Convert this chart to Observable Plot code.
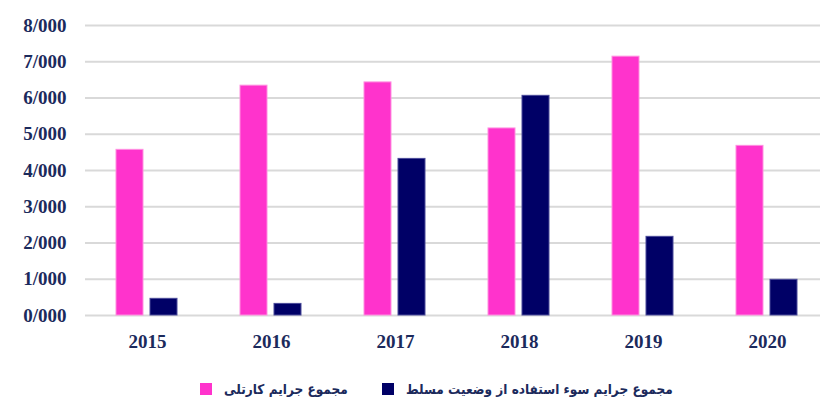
<!DOCTYPE html>
<html>
<head>
<meta charset="utf-8">
<script src="https://cdn.jsdelivr.net/npm/d3@7"></script>
<script src="https://cdn.jsdelivr.net/npm/@observablehq/plot@0.6"></script>
<style>
  html, body { margin: 0; padding: 0; background: #fff; }
  #chart { width: 820px; }
  .legend { display: flex; direction: ltr; align-items: center; height: 30px; margin-top: 14px; padding-left: 200px; box-sizing: border-box;
    font-family: "DejaVu Sans Condensed", "DejaVu Sans", sans-serif; font-weight: bold; font-size: 13.5px; color: #1b2a5c; }
  .item { display: flex; align-items: center; }
  .sw { width: 12px; height: 12px; margin-right: 12px; }
</style>
</head>
<body>
<div id="chart"></div>
<script>
const years = ["2015", "2016", "2017", "2018", "2019", "2020"];
const seriesNames = ["مجموع جرایم کارتلی", "مجموع جرایم سوء استفاده از وضعیت مسلط"];
const cartelValues = [4570, 6340, 6430, 5160, 7140, 4680];
const abuseValues = [460, 320, 4320, 6060, 2170, 985];
const yTicks = [0, 1000, 2000, 3000, 4000, 5000, 6000, 7000, 8000];
const yTickLabels = ["0/000", "1/000", "2/000", "3/000", "4/000", "5/000", "6/000", "7/000", "8/000"];
const colors = ["#ff33cc", "#000066"];
const strokes = ["#ff8fe0", "#4a4a99"];

const data = [];
years.forEach((y, i) => {
  data.push({year: y, series: seriesNames[0], value: cartelValues[i]});
  data.push({year: y, series: seriesNames[1], value: abuseValues[i]});
});

const textColor = "#1b2a5c";
const chart = Plot.plot({
  width: 820,
  height: 360,
  marginLeft: 83,
  marginRight: -10,
  marginTop: 25,
  marginBottom: 45,
  style: {fontFamily: "'Liberation Serif', 'DejaVu Serif', serif", fontWeight: "bold", fontSize: "19px", color: textColor, background: "#fff"},
  fx: {domain: years, padding: 0, label: null},
  x: {domain: seriesNames, paddingInner: 0.2, paddingOuter: 0.88, axis: null},
  y: {domain: [0, 8000], label: null},
  color: {domain: seriesNames, range: colors},
  marks: [
    Plot.gridY(yTicks, {stroke: "#d9d9d9", strokeOpacity: 1, strokeWidth: 2}),
    Plot.axisY(yTicks, {tickSize: 0, tickPadding: 19, tickFormat: (d) => yTickLabels[yTicks.indexOf(d)], fill: textColor, fontSize: 19, fontWeight: "bold", label: null}),
    Plot.axisFx({anchor: "bottom", tickSize: 0, tickPadding: 19, fill: textColor, fontSize: 19, fontWeight: "bold", label: null}),
    Plot.barY(data, {fx: "year", x: "series", y: "value", fill: "series",
      stroke: (d) => strokes[seriesNames.indexOf(d.series)], strokeWidth: 1})
  ]
});
document.getElementById("chart").appendChild(chart);

const legend = document.createElement("div");
legend.className = "legend";
seriesNames.forEach((name, i) => {
  const item = document.createElement("div");
  item.className = "item";
  item.style.position = "absolute";
  item.style.left = (i === 0 ? 200 : 382) + "px";
  const sw = document.createElement("span");
  sw.className = "sw";
  sw.style.background = colors[i];
  const label = document.createElement("span");
  label.textContent = name;
  label.setAttribute("dir", "rtl");
  item.appendChild(sw);
  item.appendChild(label);
  legend.appendChild(item);
});
document.getElementById("chart").appendChild(legend);
</script>
</body>
</html>
